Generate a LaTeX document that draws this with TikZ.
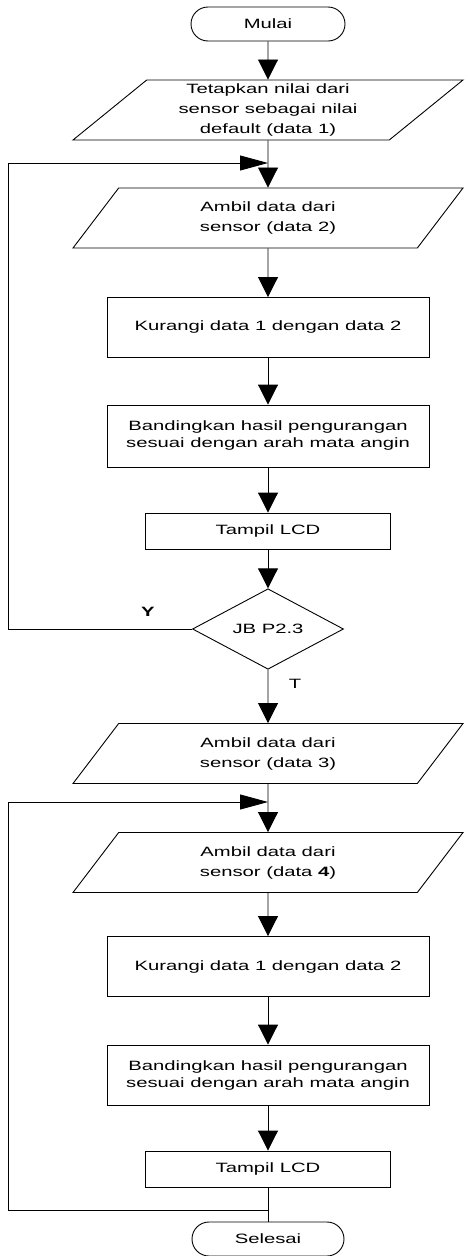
\documentclass[tikz,border=0pt]{standalone}
\usepackage{fontspec}
\setmainfont{Liberation Sans}[FakeStretch=1.5]
\usepackage{tikz}
\usetikzlibrary{shapes.geometric,shapes.misc,arrows.meta}

\begin{document}
\begin{tikzpicture}[x=1pt,y=-1pt,line width=0.9pt,
font=\fontsize{13.5}{17}\selectfont
]
    \tikzstyle{terminal}=[rounded rectangle,draw,minimum width=154,minimum height=34,inner sep=0]
    \tikzstyle{io}=[trapezium,draw,trapezium left angle=35.5,trapezium right angle=144.5,
        trapezium stretches body,minimum width=390,minimum height=60,inner sep=0,align=center,
        font=\fontsize{13.5}{20}\selectfont]
    \tikzstyle{process}=[rectangle,draw,minimum width=322,minimum height=60,inner sep=0,align=center]
    \tikzstyle{lcd}=[rectangle,draw,minimum width=245,minimum height=36,inner sep=0]
    \tikzstyle{decision}=[diamond,draw,minimum width=151,minimum height=78,inner sep=0]
    \tikzstyle{varrow}=[-{Triangle[width=20pt,length=20pt]}]
    \tikzstyle{harrow}=[-{Triangle[width=15pt,length=28pt]}]

    \useasboundingbox (0,0) rectangle (468,1256);

    % first part
    \node(start)[terminal] at (268,24) {Mulai};
    \node(init)[io] at (268,110) {Tetapkan nilai dari\\sensor sebagai nilai\\default (data 1)};
    \node(read2)[io] at (268,218) {Ambil data dari\\sensor (data 2)};
    \node(sub1)[process] at (268,327.5) {Kurangi data 1 dengan data 2};
    \node(cmp1)[process,minimum height=62] at (268,436) {Bandingkan hasil pengurangan\\sesuai dengan arah mata angin};
    \node(lcd1)[lcd] at (268,531) {Tampil LCD};
    \node(jb)[decision] at (268,629) {JB P2.3};
    \node(yes) at (148,612) {\textbf{Y}};
    \node(no) at (295,684) {T};

    % second part
    \node(read3)[io] at (268,753.5) {Ambil data dari\\sensor (data 3)};
    \node(read4)[io] at (268,862.5) {Ambil data dari\\sensor (data \textbf{4})};
    \node(sub2)[process] at (268,966.5) {Kurangi data 1 dengan data 2};
    \node(cmp2)[process] at (268,1075) {Bandingkan hasil pengurangan\\sesuai dengan arah mata angin};
    \node(lcd2)[lcd] at (268,1169) {Tampil LCD};
    \node(stop)[terminal,minimum width=152] at (268,1239) {Selesai};

    % loop points
    \coordinate(j1) at (268,163);
    \coordinate(l1) at (8,163);
    \coordinate(j2) at (268,802);
    \coordinate(l2) at (8,802);
    \coordinate(j3) at (268,1210);

    \draw[varrow] (start) -- (init);
    \draw[varrow] (init) -- (read2);
    \draw[varrow] (read2) -- (sub1);
    \draw[varrow] (sub1) -- (cmp1);
    \draw[varrow] (cmp1) -- (lcd1);
    \draw[varrow] (lcd1) -- (jb);
    \draw[varrow] (jb) -- (read3);
    \draw[varrow] (read3) -- (read4);
    \draw[varrow] (read4) -- (sub2);
    \draw[varrow] (sub2) -- (cmp2);
    \draw[varrow] (cmp2) -- (lcd2);
    \draw (lcd2) -- (stop);

    % back loops
    \draw[harrow] (jb.west) -| (l1) -- (j1);
    \draw[harrow] (j3) -| (l2) -- (j2);
\end{tikzpicture}
\end{document}
